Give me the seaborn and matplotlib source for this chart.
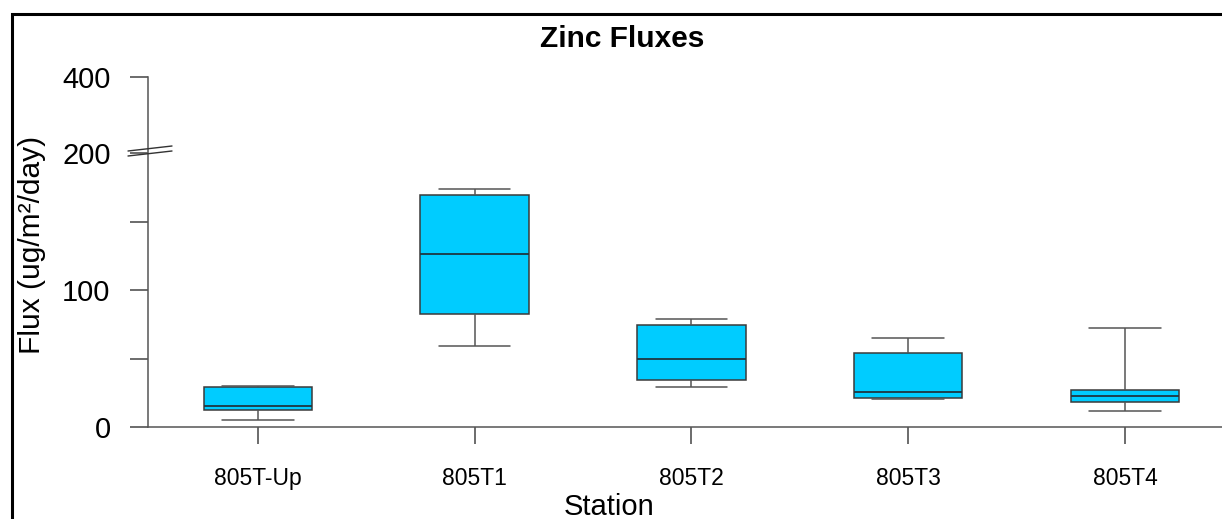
import numpy as np
import pandas as pd
import matplotlib
matplotlib.use("Agg")
import matplotlib.pyplot as plt
import seaborn as sns
from matplotlib.patches import Rectangle
from matplotlib.lines import Line2D

# five-number summaries (ug/m2/day)
stations = ['805T-Up', '805T1', '805T2', '805T3', '805T4']
flux_min = [5.3, 59.0, 29.0, 20.4, 11.7]
flux_q1 = [12.6, 82.7, 34.5, 20.9, 18.5]
flux_median = [15.3, 126.3, 49.6, 25.5, 22.4]
flux_q3 = [29.0, 169.6, 74.7, 54.2, 26.8]
flux_max = [29.7, 173.5, 78.6, 65.2, 72.5]

y_ticks = [0, 50, 100, 150, 200, 400]
y_ticklabels = ['0', '', '100', '', '200', '400']

# five points per station -> quartiles come out exactly as read
rows = []
for i, st in enumerate(stations):
    for v in (flux_min[i], flux_q1[i], flux_median[i], flux_q3[i], flux_max[i]):
        rows.append({'Station': st, 'Flux': v})
df = pd.DataFrame(rows)

# broken axis: 0-200 linear, 200-400 squeezed
BREAK = 200
SQUEEZE = 0.2774


def fwd(y):
    y = np.asarray(y, dtype=float)
    return np.where(y <= BREAK, y, BREAK + (y - BREAK) * SQUEEZE)


def inv(y):
    y = np.asarray(y, dtype=float)
    return np.where(y <= BREAK, y, BREAK + (y - BREAK) / SQUEEZE)


sns.set_style('white')
plt.rcParams['font.family'] = ['Liberation Sans', 'DejaVu Sans']
plt.rcParams['text.color'] = 'black'

W, H = 1222, 519
fig = plt.figure(figsize=(W / 100, H / 100), dpi=100)
ax = fig.add_axes([148 / W, 1 - 427 / H, 1086.8 / W, 350 / H])

sns.boxplot(
    data=df, x='Station', y='Flux', ax=ax,
    whis=np.inf, width=0.5, color='#00CCFF', saturation=1,
    linecolor='#3a3a3a', linewidth=1.1,
    capwidths=0.33,
    medianprops={'color': '#1f3640', 'linewidth': 1.3},
    whiskerprops={'color': '#555555'},
    capprops={'color': '#555555'},
)

ax.set_yscale('function', functions=(fwd, inv))
ax.set_ylim(0, 400)
ax.set_xlim(-0.507, 4.507)
ax.set_yticks(y_ticks)
ax.set_yticklabels(y_ticklabels)
ax.tick_params(axis='y', direction='out', length=13, width=1.1, color='#444444',
               labelsize=21, pad=14, left=True, labelcolor='black')
ax.tick_params(axis='x', direction='out', length=12.5, width=1.1, color='#444444',
               labelsize=16.5, pad=16, bottom=True, labelcolor='black')
ax.set_xlabel('')
ax.set_ylabel('')
sns.despine(ax=ax, top=True, right=True)
for side in ('left', 'bottom'):
    ax.spines[side].set_color('#555555')
    ax.spines[side].set_linewidth(1.1)

# break marks on the y axis
for dy in (0, 5):
    fig.add_artist(Line2D([128 / W, 172 / W],
                          [1 - (151 + dy) / H, 1 - (146 + dy) / H],
                          transform=fig.transFigure, color='#333333', lw=1.0))

fig.text(622 / W, 1 - 47 / H, 'Zinc Fluxes', ha='center', va='baseline',
         fontsize=21.5, fontweight='bold')
fig.text(609 / W, 1 - 515 / H, 'Station', ha='center', va='baseline', fontsize=21)
fig.text(40 / W, 1 - 245 / H, 'Flux (ug/m²/day)', ha='center', va='baseline',
         rotation=90, rotation_mode='anchor', fontsize=21.5)

# outer frame (only left and top edges visible)
fig.add_artist(Rectangle((12 / W, -0.2), 1.5, 1.2 - 14 / H, transform=fig.transFigure,
                         fill=False, lw=2.2, ec='black'))

fig.savefig('out.png', dpi=100)
